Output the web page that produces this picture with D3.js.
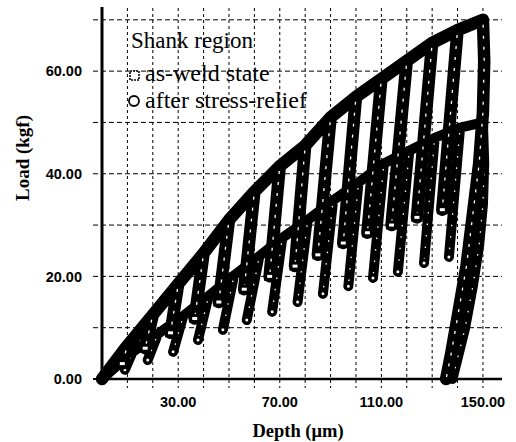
<!DOCTYPE html>
<html>
<head>
<meta charset="utf-8">
<script src="https://cdn.jsdelivr.net/npm/d3@7"></script>
<style>
  html, body { margin: 0; padding: 0; background: #fff; }
</style>
</head>
<body>
<div id="chart"></div>
<script>
// as-weld state (squares): cycle peaks on the loading curve and the unload minima
const awPeakDepth = [10, 20, 30, 40, 50, 60, 70, 80, 90, 100, 110, 120, 130, 140];
const awPeakLoad = [6.5, 12.5, 18.5, 24.5, 31, 36.5, 41.5, 45.5, 51, 55, 58.5, 62, 65.5, 68];
const awValleyDepth = [8, 17, 27, 36.5, 46, 56, 66, 76, 85, 95, 104.5, 114, 124, 134];
const awValleyLoad = [3, 6, 9, 11.8, 15, 17.5, 20, 22, 24.2, 26.5, 28.5, 30, 31.5, 33];
const awFinalDepth = [150, 150.5, 150, 148.5, 146, 143.5, 140, 137.5, 135.5];
const awFinalLoad = [70, 62, 52, 42, 32, 22, 12, 5, 0];

// after stress-relief (circles)
const srPeakDepth = [12, 22, 32, 42, 52, 62, 71, 81, 91, 101, 111, 121, 131, 141];
const srPeakLoad = [5.2, 8.8, 12.3, 16.2, 20.2, 24, 27.5, 31, 34.8, 38.3, 42, 44.5, 47, 49];
const srValleyDepth = [9, 18, 28, 37.8, 47.6, 57, 67, 77, 87, 97, 106.7, 116.5, 126.8, 136.6];
const srValleyLoad = [1.8, 3.7, 5.3, 7.6, 9.6, 11.5, 13.1, 15, 16.6, 18.1, 19.7, 20.9, 22.6, 23.8];
const srFinalDepth = [150, 150.5, 150, 148.5, 146, 143, 140, 138];
const srFinalLoad = [50, 42, 34, 26, 18, 10, 4, 0];

const xTicks = [30, 70, 110, 150];
const yTicks = [0, 20, 40, 60];
const xGrid = [10, 20, 30, 40, 50, 60, 70, 80, 90, 100, 110, 120, 130, 140, 150];
const yGrid = [10, 20, 30, 40, 50, 60, 70];

const legendTitle = 'Shank region';
const seriesNames = ['as-weld state', 'after stress-relief'];

const width = 516, height = 442;

const x = d3.scaleLinear().domain([0, 157.5]).range([102, 502]);
const y = d3.scaleLinear().domain([0, 72.5]).range([379, 7]);

// origin, then peak -> valley -> peak for each cycle, then the final unload
function tracePath(pd, pl, vd, vl, fd, fl) {
    const pts = [[0, 0]];
    pd.forEach((d, i) => {
        pts.push([d, pl[i]]);
        pts.push([vd[i], vl[i]]);
        pts.push([d, pl[i]]);
    });
    fd.forEach((d, i) => pts.push([d, fl[i]]));
    return pts;
}

const series = [
    {
        shape: 'circle',
        width: 10,
        pts: tracePath(srPeakDepth, srPeakLoad, srValleyDepth, srValleyLoad, srFinalDepth, srFinalLoad),
        cycles: srPeakDepth.map((d, i) => [[d, srPeakLoad[i]], [srValleyDepth[i], srValleyLoad[i]]])
            .concat([srFinalDepth.map((d, i) => [d, srFinalLoad[i]])]),
        valleys: srValleyDepth.map((d, i) => [d, srValleyLoad[i]])
    },
    {
        shape: 'square',
        width: 12.5,
        pts: tracePath(awPeakDepth, awPeakLoad, awValleyDepth, awValleyLoad, awFinalDepth, awFinalLoad),
        cycles: awPeakDepth.map((d, i) => [[d, awPeakLoad[i]], [awValleyDepth[i], awValleyLoad[i]]])
            .concat([awFinalDepth.map((d, i) => [d, awFinalLoad[i]])]),
        valleys: awValleyDepth.map((d, i) => [d, awValleyLoad[i]])
    }
];

const svg = d3.select('#chart')
    .append('svg')
    .attr('width', width)
    .attr('height', height)
    .style('font-family', '"Liberation Serif", "Times New Roman", serif');

// grid
const grid = svg.append('g').attr('class', 'grid');
grid.selectAll('.hgrid')
    .data(yGrid)
    .enter().append('line')
    .attr('x1', 93).attr('x2', 502)
    .attr('y1', d => y(d)).attr('y2', d => y(d))
    .attr('stroke', '#000')
    .attr('stroke-width', 1)
    .attr('stroke-dasharray', '5,3');
grid.selectAll('.vgrid')
    .data(xGrid)
    .enter().append('line')
    .attr('x1', d => x(d)).attr('x2', d => x(d))
    .attr('y1', 8).attr('y2', 388)
    .attr('stroke', '#000')
    .attr('stroke-width', 1)
    .attr('stroke-dasharray', '3,3');
grid.append('line')
    .attr('x1', 93).attr('x2', 102)
    .attr('y1', y(0)).attr('y2', y(0))
    .attr('stroke', '#000').attr('stroke-width', 2);

const line = d3.line()
    .x(d => x(d[0]))
    .y(d => y(d[1]));

series.forEach(s => {
    const g = svg.append('g');
    g.append('path')
        .attr('d', line(s.pts))
        .attr('fill', 'none')
        .attr('stroke', '#000')
        .attr('stroke-width', s.width)
        .attr('stroke-linejoin', 'round')
        .attr('stroke-linecap', 'round');
    // hollow markers show as small white specks inside the unloading bands
    g.selectAll('.speck')
        .data(s.cycles)
        .enter().append('path')
        .attr('d', d => line(d))
        .attr('fill', 'none')
        .attr('stroke', '#fff')
        .attr('stroke-width', 1.3)
        .attr('stroke-dasharray', s.shape === 'square' ? '3,8' : '1.5,10')
        .attr('stroke-dashoffset', 6);
    if (s.shape === 'square') {
        g.selectAll('rect')
            .data(s.valleys)
            .enter().append('rect')
            .attr('x', d => x(d[0]) - 4).attr('y', d => y(d[1]) - 3)
            .attr('width', 8).attr('height', 6)
            .attr('fill', '#fff').attr('stroke', '#000').attr('stroke-width', 3);
    } else {
        g.selectAll('circle')
            .data(s.valleys)
            .enter().append('circle')
            .attr('cx', d => x(d[0])).attr('cy', d => y(d[1]))
            .attr('r', 3)
            .attr('fill', '#fff').attr('stroke', '#000').attr('stroke-width', 3);
    }
});

// axes lines
svg.append('line')
    .attr('x1', 102).attr('x2', 102)
    .attr('y1', 7).attr('y2', y(0))
    .attr('stroke', '#000').attr('stroke-width', 3);
svg.append('line')
    .attr('x1', 100).attr('x2', 502)
    .attr('y1', y(0)).attr('y2', y(0))
    .attr('stroke', '#000').attr('stroke-width', 2.5);

// tick labels
svg.append('g').selectAll('text')
    .data(yTicks)
    .enter().append('text')
    .attr('x', 82)
    .attr('y', d => y(d))
    .attr('dy', '0.36em')
    .attr('text-anchor', 'end')
    .style('font-family', '"Liberation Sans", Arial, sans-serif')
    .style('font-weight', 'bold')
    .style('font-size', '14.5px')
    .text(d => d.toFixed(2));

svg.append('g').selectAll('text')
    .data(xTicks)
    .enter().append('text')
    .attr('x', d => x(d))
    .attr('y', 407)
    .attr('text-anchor', 'middle')
    .style('font-family', '"Liberation Sans", Arial, sans-serif')
    .style('font-weight', 'bold')
    .style('font-size', '14.5px')
    .text(d => d.toFixed(2));

// axis titles
svg.append('text')
    .attr('x', 298).attr('y', 437)
    .attr('text-anchor', 'middle')
    .style('font-weight', 'bold')
    .style('font-size', '18.5px')
    .text('Depth (\u03bcm)');

svg.append('text')
    .attr('transform', 'translate(29,158) rotate(-90)')
    .attr('text-anchor', 'middle')
    .style('font-weight', 'bold')
    .style('font-size', '19px')
    .text('Load (kgf)');

// legend
const legend = svg.append('g');
legend.append('text').attr('x', 131).attr('y', 48).style('font-size', '23px').text(legendTitle);
legend.append('rect')
    .attr('x', 130).attr('y', 71).attr('width', 9).attr('height', 9)
    .attr('fill', '#fff').attr('stroke', '#000').attr('stroke-width', 1.6)
    .attr('stroke-dasharray', '2,1');
legend.append('text').attr('x', 145).attr('y', 81).style('font-size', '24px').text(seriesNames[0]);
legend.append('circle')
    .attr('cx', 134).attr('cy', 101).attr('r', 5)
    .attr('fill', '#fff').attr('stroke', '#000').attr('stroke-width', 1.8);
legend.append('text').attr('x', 145).attr('y', 108).style('font-size', '24px').text(seriesNames[1]);
</script>
</body>
</html>
